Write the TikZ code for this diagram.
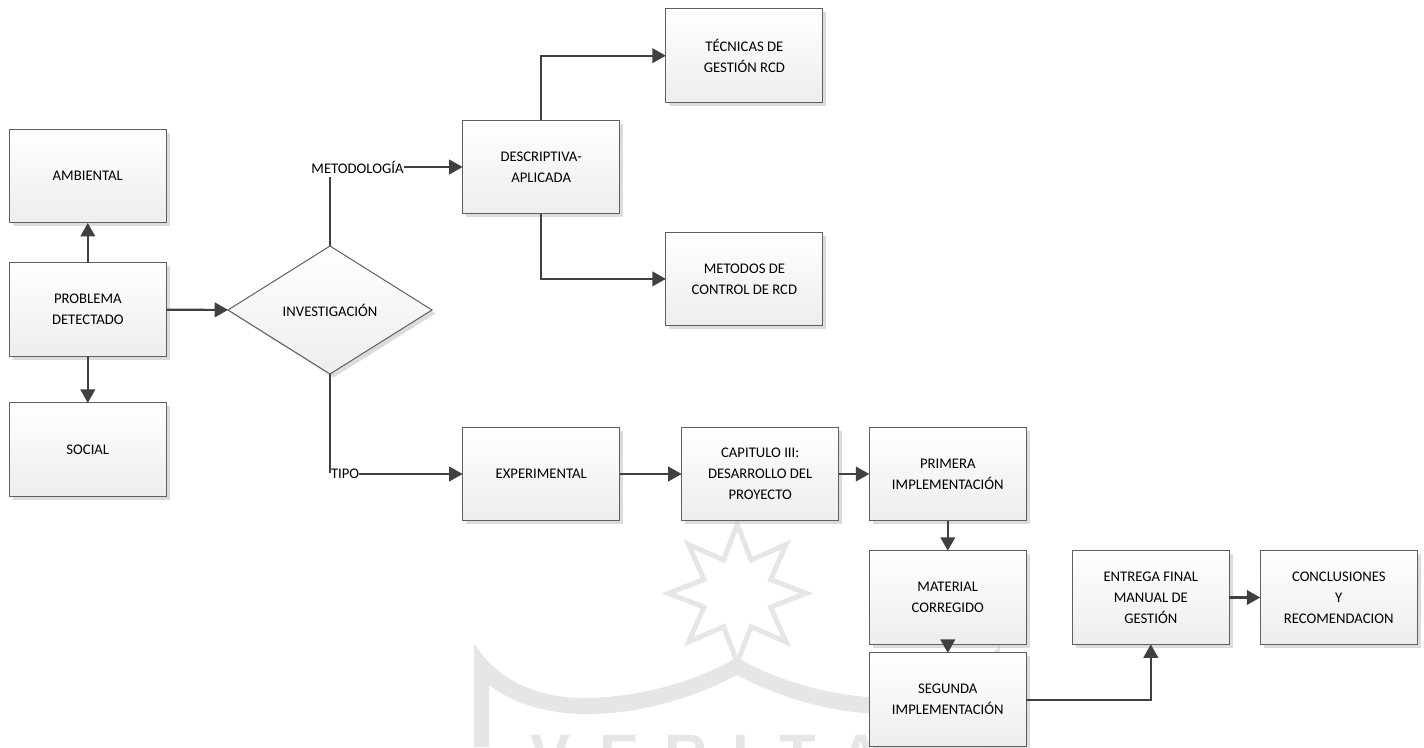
\documentclass[tikz,border=0pt]{standalone}
\usepackage{fontspec}
\setmainfont{Carlito}
\newfontfamily\markfont{Liberation Sans}
\usetikzlibrary{positioning,calc,shapes.geometric,shadows,arrows.meta}
\definecolor{LineGray}{RGB}{64,64,64}
\definecolor{EdgeGray}{RGB}{95,95,95}
\definecolor{MarkGray}{RGB}{230,230,230}
\tikzset{
    boxshade/.style={top color=white, bottom color=black!7, draw=EdgeGray, line width=1pt,
        drop shadow={shadow xshift=3.5pt, shadow yshift=-3.5pt, fill=black!30, opacity=0.45}},
    procnode/.style={rectangle, boxshade, minimum width=157pt, minimum height=93.5pt, inner sep=0pt, outer sep=0pt, align=center, font=\fontsize{14.7}{21}\selectfont},
    decnode/.style={diamond, boxshade, aspect=1.594, minimum width=204pt, minimum height=128pt, inner sep=0pt, outer sep=0pt, font=\fontsize{14.7}{21}\selectfont},
    lblnode/.style={inner sep=0pt, outer sep=0pt, font=\fontsize{14.7}{21}\selectfont},
    conn/.style={draw=LineGray, line width=2.2pt, -{Triangle[length=13.5pt,width=14.5pt]}},
    connplain/.style={draw=LineGray, line width=2.2pt},
    markline/.style={draw=MarkGray, line width=5pt, line join=miter},
    markletter/.style={text=MarkGray, anchor=base, inner sep=0pt, font=\markfont\bfseries\fontsize{60}{60}\selectfont}
}

\begin{document}
\begin{tikzpicture}[x=1pt, y=-1pt]
    \useasboundingbox (0,0) rectangle (1424,747);

    % --- Marca de agua ---
    \begin{scope}
        \clip (0,0) rectangle (1424,747);
        \draw[markline] plot[samples at={0,...,15}] ({(mod(\x,2)==0?69:36)*cos(\x*22.5)+737.3},{(mod(\x,2)==0?69:36)*sin(\x*22.5)+593.3}) -- cycle;
        \foreach \sgn in {1,-1} {
            \begin{scope}[shift={(737,0)}, xscale=\sgn]
                \fill[MarkGray] (-263,643) .. controls (-237,685) and (-192,698) .. (-154,698)
                    .. controls (-97,698) and (-37,680) .. (0,657) -- (0,675)
                    .. controls (-37,695) and (-92,714) .. (-150,714)
                    .. controls (-187,714) and (-222,705) .. (-248,685)
                    -- (-248,747) -- (-263,747) -- cycle;
            \end{scope}
        }
        \node[markletter] (markv) at (551,776) {V};
        \node[markletter] (marke) at (620,776) {E};
        \node[markletter] (markr) at (686,776) {R};
        \node[markletter] (marki) at (741,776) {I};
        \node[markletter] (markt) at (798,776) {T};
        \node[markletter] (marka) at (861,776) {A};
    \end{scope}

    % --- Rama izquierda ---
    \node[procnode] (ambiental) at (87.8,176.2) {AMBIENTAL};
    \node[procnode, below=40pt of ambiental] (problema) {PROBLEMA\\DETECTADO};
    \node[procnode, below=46.5pt of problema] (social) {SOCIAL};
    \node[decnode] (investigacion) at (330,310) {INVESTIGACIÓN};

    % --- Metodología ---
    \node[lblnode] (metodologia) at (357.5,167) {METODOLOGÍA};
    \node[procnode] (descriptiva) at (541.2,167) {DESCRIPTIVA-\\APLICADA};
    \node[procnode] (tecnicas) at (744.4,55.7) {TÉCNICAS DE\\GESTIÓN RCD};
    \node[procnode] (metodos) at (744.4,278.9) {METODOS DE\\CONTROL DE RCD};

    % --- Tipo y desarrollo ---
    \node[lblnode, anchor=west] (tipo) at (331,474) {TIPO};
    \node[procnode] (experimental) at (541.2,474) {EXPERIMENTAL};
    \node[procnode, right=62pt of experimental] (capitulo) {CAPITULO III:\\DESARROLLO DEL\\PROYECTO};
    \node[procnode, right=30.6pt of capitulo] (primera) {PRIMERA\\IMPLEMENTACIÓN};
    \node[procnode, below=30pt of primera] (material) {MATERIAL\\CORREGIDO};
    \node[procnode, below=8.7pt of material] (segunda) {SEGUNDA\\IMPLEMENTACIÓN};
    \node[procnode, right=46pt of material] (entrega) {ENTREGA FINAL\\MANUAL DE\\GESTIÓN};
    \node[procnode, right=31pt of entrega] (conclusiones) {CONCLUSIONES\\Y\\RECOMENDACION};

    % --- Conectores ---
    \draw[conn] (problema) -- (ambiental);
    \draw[conn] (problema) -- (social);
    \draw[conn] (problema) -- (investigacion);
    \draw[connplain] (investigacion.north) -- ($(investigacion.north |- metodologia.south)+(0,4)$);
    \draw[conn] (metodologia) -- (descriptiva);
    \draw[conn] (descriptiva.north) |- (tecnicas);
    \draw[conn] (descriptiva.south) |- (metodos);
    \draw[connplain] (investigacion.south) -- ($(investigacion.south |- tipo.north)+(0,4)$);
    \draw[conn] (tipo) -- (experimental);
    \draw[conn] (experimental) -- (capitulo);
    \draw[conn] (capitulo) -- (primera);
    \draw[conn] (primera) -- (material);
    \draw[conn] (material) -- (segunda);
    \draw[conn] (segunda) -| (entrega);
    \draw[conn] (entrega) -- (conclusiones);

\end{tikzpicture}
\end{document}
